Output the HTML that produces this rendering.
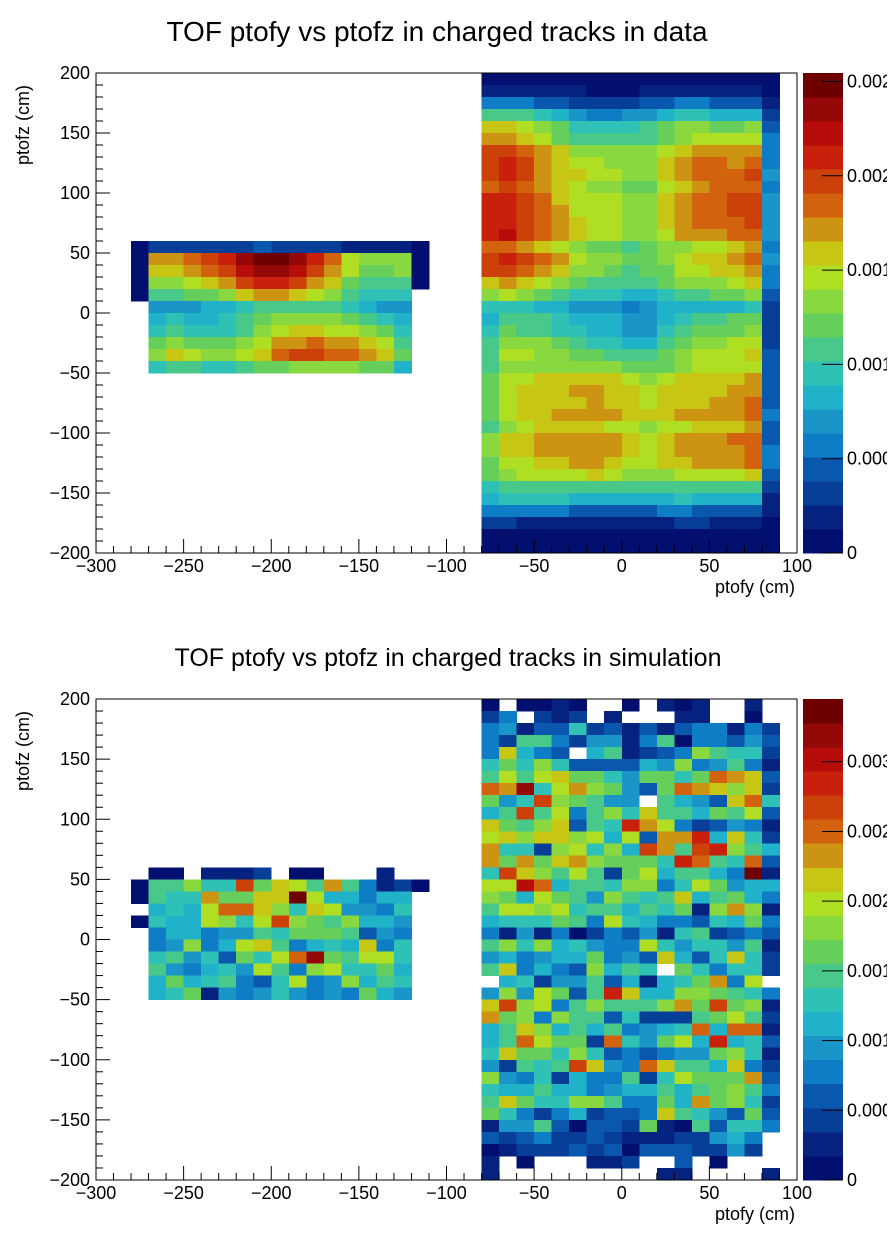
<!DOCTYPE html>
<html><head><meta charset="utf-8">
<style>
html,body{margin:0;padding:0;background:#fff;overflow:hidden;width:896px;height:1252px}
svg{display:block;font-family:"Liberation Sans",sans-serif}
</style></head>
<body>
<svg id="chart" width="896" height="1252" viewBox="0 0 896 1252" xmlns="http://www.w3.org/2000/svg">
<defs><clipPath id="padclip"><rect x="0" y="0" width="887" height="1252"/></clipPath></defs>
<rect x="0" y="0" width="896" height="1252" fill="#fff"/>
<text x="437" y="41" font-size="28" text-anchor="middle">TOF ptofy vs ptofz in charged tracks in data</text>
<text x="448" y="666" font-size="25" text-anchor="middle">TOF ptofy vs ptofz in charged tracks in simulation</text>
</svg>
<script>
// ---- data (levels 0..19 encoded as 0-9,a-j ; '.' = empty bin). Bin size 10 cm x 10 cm ----
const xTicks = [-300,-250,-200,-150,-100,-50,0,50,100];
const yTicks = [200,150,100,50,0,-50,-100,-150,-200];
const topZTicks = [0,0.0005,0.001,0.0015,0.002,0.0025];
const topZMax = 0.002545;
const botZTicks = [0,0.0005,0.001,0.0015,0.002,0.0025,0.003];
const botZMax = 0.00345;
const topRightX0 = -80, topRightYTop = 200;
const topRight = [
"00000000000000000","11111100011111110","44433222233443331","88876544556776662",
"ccba9777789aa99a3","ddcb9888889abbbb4","ffedcaaaaabcdddd4","fgfdcbbaaacdeede4",
"fgfdccbbaacdeeef5","efedcbaa99bcdeee4","ggfecbbbaacdeeff5","ggfedbbbaacdeeff5",
"ggfedcbbaacdeeef5","ghfedcbbaabdddee5","eedcba9989aabbcd4","fgfedbaa99abccde5",
"ffedcaa9899bbccd4","cdcba988889aaabc4","aba987776678899a3","77766555456666672",
"68887666556788992","798877665578999a2","8aaa98776689aabb2","8bbaa998889abbbc3",
"8aaaaaaa999abbbb3","9bbcccccbabccccd3","9bcccddccbccccdd3","9bccccdccbcccdde3",
"9bccddddcccdddde4","8abccccbbabbcccd3","accdddddcbcdddee3","accdddddcbcdddde4",
"9bbccddcbbccddde4","9abbbbcbaaabbbbc3","78888888888888882","67777666666766661",
"44444333334433331","22111111111221110","00000000000000000","00000000000000000"];
const topLeftX0 = -280, topLeftYTop = 60;
const topLeft = [
"02222223222211110","0ddefgijjigebaaa0","0ccdefhiihfdb99a0","0aabcdfggfdc98880",
"08899acddcba8777.",".555667888887655.",".6766789aaaa9876.",".787778abccbba97.",
".9a999abddeddcb8.",".acbaabceffeedc9.",".78877899aaaa996."];
const botRightX0 = -80, botRightYTop = 200;
const botRight = [
"0.0010..0.101..1.","24.212.1...11..0.","45133723131344142","42884255148044353",
"4c643.681234a8772","797a7333365a45841","8b8bc99759979edc3","edi7bda9539edcac2",
"957fa9855.8653ce7","68f8b48a7c88698b3","c98ac387gdb423541","bcaccab6b3ddg6c72",
"d772ab7a6fd8fga86","d9d9cda9997ge87e3","7fca8b829b68864j1","bbhe6887aa47b9566",
"a96b985a878c68964","8bbab78868791ada1","6777984b764437694","41514024351782343",
"8a7a67544b7577581","5645669453c637c72","8c4643a687.974772",".672558361679d4b.",
"5a5b938gc66aa9874","cfab48a888ad9f9a1","d9a4a883722289b82","68ca68684567e6ee1",
"68eb992e759b6g673","7c997a73434559a71","52878fc54ec886c42","a5472644827b999d3",
"76686645668689a84","8c977aa84496d9a72","9742462334c875393","15583033291083774",
"3234223211122564.","0122232303332252.","1.0...112..3.0...","1.........11....1"];
const botLeftX0 = -280, botLeftYTop = 60;
const botLeft = [
".00.1112.00...1..","088a77f9cb8d84120","0877d99ccjb66466.",".676beeca7cb5547.",
"0766ba7bfa98a665.",".466455879998354.",".45a46bc84676c47.",".7857397bei98bb7.",
".854675b84ab7796.",".69678437b45a687.",".679154575454965."];

const palette = ['#020f6e','#05227f','#073f98','#0a58ae','#0e7dc6','#1a95c8','#20b2c8','#2fc1b6','#48c98a','#66cf5c','#8ad83f','#b0de22','#c8c614','#cc9412','#d2620e','#cc410a','#c8200a','#b60c0a','#940808','#6e0000'];
const NS = 'http://www.w3.org/2000/svg';
const svg = document.getElementById('chart');
function mk(tag, attrs, parent){
  const e = document.createElementNS(NS, tag);
  for (const k in attrs) e.setAttribute(k, attrs[k]);
  (parent||svg).appendChild(e);
  return e;
}
function panel(name, top, bot, blocks, zTicks, zMax){
  const L = 96, R = 797;
  const xS = v => L + (v + 300) * (R - L) / 400;
  const yS = v => top + (200 - v) * (bot - top) / 400;
  const g = mk('g', {});
  
  
  blocks.forEach(b => {
    b.rows.forEach((row, ri) => {
      for (let ci = 0; ci < row.length; ci++) {
        const ch = row[ci];
        if (ch === '.') continue;
        const lvl = parseInt(ch, 36);
        const value = (lvl + 0.5) * zMax / 20;
        const idx = Math.min(19, Math.floor(value / zMax * 20));
        const x0 = b.x0 + ci * 10, yTopV = b.yTop - ri * 10;
        const x = xS(x0), y = yS(yTopV);
        const r = mk('rect', {x: x, y: y, width: xS(x0 + 10) - x + 0.4, height: yS(yTopV - 10) - y + 0.4, fill: palette[idx], 'shape-rendering': 'crispEdges'}, g);
        
        
      }
    });
  });
  const fr = mk('rect', {x: L, y: top, width: R - L, height: bot - top, fill: 'none', stroke: '#000', 'stroke-width': 1});
  
  
  const tg = mk('g', {stroke: '#000', 'stroke-width': 1});
  
  
  for (let v = -300; v <= 100; v += 10) {
    const len = (v % 50 === 0) ? 14 : 7;
    mk('line', {x1: xS(v), x2: xS(v), y1: bot, y2: bot - len}, tg);
  }
  for (let v = -200; v <= 200; v += 10) {
    const len = (v % 50 === 0) ? 14 : 7;
    mk('line', {x1: L, x2: L + len, y1: yS(v), y2: yS(v)}, tg);
  }
  xTicks.forEach(v => {
    const t = mk('text', {x: xS(v), y: bot + 19, 'font-size': 18, 'text-anchor': 'middle'});
    t.textContent = String(v).replace('-', '\u2212');
    
    
  });
  yTicks.forEach(v => {
    const t = mk('text', {x: 90, y: yS(v) + 6, 'font-size': 18, 'text-anchor': 'end'});
    t.textContent = String(v).replace('-', '\u2212');
    
    
  });
  const xt = mk('text', {x: 795, y: bot + 40, 'font-size': 18, 'text-anchor': 'end'});
  xt.textContent = 'ptofy (cm)';
  
  
  const yt = mk('text', {x: 0, y: 0, 'font-size': 18, 'text-anchor': 'end', transform: 'translate(29,' + (top + 12) + ') rotate(-90)'});
  yt.textContent = 'ptofz (cm)';
  
  
  const cb = mk('g', {'clip-path': 'url(#padclip)'});
  
  
  const h = (bot - top) / 20;
  for (let i = 0; i < 20; i++) {
    const r = mk('rect', {x: 803, y: bot - (i + 1) * h, width: 40, height: h + 0.4, fill: palette[i], 'shape-rendering': 'crispEdges'}, cb);
    
    
  }
  zTicks.forEach(z => {
    const y = bot - z / zMax * (bot - top);
    mk('line', {x1: 822, x2: 843, y1: y, y2: y, stroke: '#000', 'stroke-width': 1}, cb);
    const t = mk('text', {x: 847, y: y + 6, 'font-size': 18}, cb);
    t.textContent = z === 0 ? '0' : z.toFixed(4).replace(/0+$/, '');
    
    
  });
}
panel('top', 73, 553, [
  {x0: topRightX0, yTop: topRightYTop, rows: topRight},
  {x0: topLeftX0, yTop: topLeftYTop, rows: topLeft}], topZTicks, topZMax);
panel('bottom', 699, 1180, [
  {x0: botRightX0, yTop: botRightYTop, rows: botRight},
  {x0: botLeftX0, yTop: botLeftYTop, rows: botLeft}], botZTicks, botZMax);
</script>
</body></html>
